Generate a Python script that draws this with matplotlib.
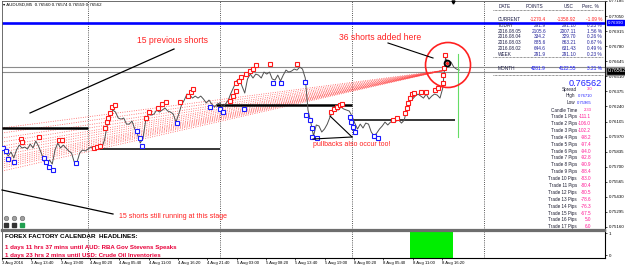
import numpy as np
import matplotlib
matplotlib.use('Agg')
import matplotlib.pyplot as plt
from matplotlib.lines import Line2D
from matplotlib.patches import Ellipse

plt.rcParams['font.family'] = ['Liberation Sans', 'DejaVu Sans']

W, H = 625, 267

# ---------------- data ----------------
symbol_header = "\u25be AUDUSD,M5  0.76560 0.76574 0.76559 0.76562"

# close prices (in 1e-5 units), every 30 min of trading time from 3 Aug 08:30
close_start_h = 8.5
close_step_h = 0.5
close_pts = [
    75868, 75832, 75796, 75832, 75778, 75850, 75894, 75868, 75876, 75859,
    75903, 75868, 75930, 75885, 75823, 75760, 75724, 75760, 75724, 75850,
    75912, 75868, 75894, 75868, 75841, 75823, 75742, 75742, 75823, 75850,
    75841, 75859, 75876, 75868, 75876, 75894, 75868, 75939, 76074, 76154,
    76208, 76190, 76136, 76127, 76136, 76082, 76082, 76109, 76038, 75993,
    75912, 75957, 76118, 76172, 76163, 76172, 76208, 76190, 76208, 76226,
    76199, 76190, 76172, 76100, 76172, 76253, 76297, 76351, 76342, 76315,
    76333, 76315, 76333, 76306, 76271, 76297, 76262, 76235, 76262, 76271,
    76235, 76262, 76297, 76360, 76414, 76468, 76486, 76423, 76360, 76486,
    76530, 76495, 76530, 76521, 76495, 76548, 76530, 76548, 76486, 76477,
    76521, 76468, 76521, 76566, 76548, 76557, 76575, 76566, 76593, 76575,
    76495, 76208, 76100, 75975, 76074, 76065, 76011, 76038, 76082, 76145,
    76190, 76217, 76208, 76235, 76217, 76208, 76199, 76154, 76091, 76038,
    76082, 76047, 76091, 76082, 76011, 75975, 76002, 76038, 76065, 76100,
    76074, 76100, 76118, 76109, 76118, 76091, 76118, 76226, 76315, 76306,
    76333, 76351, 76333, 76315, 76351, 76306, 76333, 76351, 76342, 76315,
    76405, 76674, 76620, 76638, 76593, 76575, 76566,
]

# sell markers (red) and buy/close markers (blue): trading hours, price (1e-5)
red_h = [11.82, 12.0, 15.09, 18.73, 19.27, 25.09, 25.64, 26.18, 27.09, 27.45,
         27.64, 28.0, 28.36, 28.91, 34.55, 35.09, 36.73, 37.45, 38.18, 40.73,
         42.18, 42.73, 43.09, 49.82, 50.36, 50.91, 50.91, 51.45, 51.82, 52.73,
         53.45, 54.0, 54.55, 57.09, 62.0, 68.18, 68.73, 69.27, 69.82, 70.18,
         79.45, 80.18, 81.64, 82.0, 82.18, 82.55, 82.91, 83.27, 84.55, 85.45,
         87.09, 87.64, 88.55, 88.55, 88.73, 88.91]
red_p = [75948, 75921, 75966, 75939, 75939, 75868, 75876, 75885, 76047, 76100,
         76136, 76181, 76235, 76253, 76136, 76190, 76226, 76262, 76280, 76280,
         76333, 76369, 76396, 76288, 76333, 76378, 76450, 76468, 76504, 76530,
         76557, 76575, 76611, 76620, 76620, 76190, 76217, 76235, 76253, 76262,
         76118, 76136, 76181, 76226, 76271, 76315, 76351, 76360, 76369, 76369,
         76387, 76405, 76450, 76521, 76584, 76700]
blue_h = [8.55, 9.09, 9.45, 10.55, 16.0, 16.36, 16.91, 17.64, 21.82, 32.91,
          33.45, 33.82, 40.18, 46.18, 48.0, 48.55, 52.36, 57.64, 59.09, 63.45,
          63.64, 64.36, 64.73, 64.73, 65.64, 71.64, 71.82, 72.18, 72.55, 76.0,
          76.73]
blue_p = [75868, 75841, 75769, 75742, 75778, 75742, 75697, 75670, 75733, 76020,
          75957, 75885, 76091, 76235, 76217, 76190, 76217, 76450, 76450, 76459,
          76163, 76118, 76047, 75966, 75957, 76145, 76100, 76056, 76011, 75975,
          75957]

# open-trade lines: price where each enters the chart, all running to the current price
fan_left_p = [76047, 76002, 75957, 75921, 75885, 75859, 75832, 75805, 75778,
              75760, 75742, 75724, 75706, 75688, 75661]
fan_end_h = 88.6
current_price = 0.76562
ask_price = 0.76590
bid_line = 0.76552
blue_level = 0.76990
day_high, day_low = 0.76710, 0.75965
day_hl_h = 91.27

# drawn horizontal levels: (start h, end h, price, width)
level_start = [8.36, 26.2, 47.3, 72.2]
level_end = [24.0, 48.0, 72.0, 90.7]
level_price = [0.76047, 0.75859, 0.76253, 0.76118]
level_lw = [1.8, 1.1, 1.8, 1.1]

day_separators = [24, 48, 72, 96]

tick_times = ["3 Aug 08:20", "3 Aug 13:40", "3 Aug 19:00", "4 Aug 00:20",
              "4 Aug 05:40", "4 Aug 11:00", "4 Aug 16:20", "4 Aug 21:40",
              "5 Aug 03:00", "5 Aug 08:20", "5 Aug 13:40", "5 Aug 19:00",
              "8 Aug 00:20", "8 Aug 05:40", "8 Aug 11:00", "8 Aug 16:20"]
tick_labels = ["3 Aug 2016"] + tick_times[1:]

price_ticks = [0.77185, 0.77050, 0.76915, 0.76780, 0.76645, 0.76510, 0.76375,
               0.76240, 0.76105, 0.75970, 0.75835, 0.75700, 0.75565, 0.75430,
               0.75295, 0.75160]

signal_start_h, signal_end_h = 82.55, 90.36

table_header = ["DATE", "POINTS", "USC", "Perc. %"]
table_dates = ["CURRENT", "TODAY", "2016.08.05", "2016.08.04", "2016.08.03",
               "2016.08.02", "WEEK", "MONTH"]
table_points = ["-1270.4", "291.9", "2105.6", "334.2", "885.6", "644.6", "291.9", "4281.9"]
table_usc = ["-1358.92", "291.10", "2007.11", "329.70", "863.21", "631.43", "291.10", "4122.55"]
table_perc = ["-1.09", "0.23", "1.56", "0.26", "0.67", "0.49", "0.23", "3.21"]
info_labels = ["Spread", "High", "Low", "Candle Time"]
info_values = ["3.0", "0.76710", "0.75965", "2:33"]
trade_pips = [-111.1, -106.0, -102.2, -98.2, -97.4, -94.0, -92.8, -90.9, -88.4,
              -83.0, -80.4, -80.5, -78.6, -76.3, -67.5, 5.0, 6.0]

calendar_lines = ["FOREX FACTORY CALENDAR  HEADLINES:",
                  "1 days 11 hrs 37 mins until AUD: RBA Gov Stevens Speaks",
                  "1 days 23 hrs 2 mins until USD: Crude Oil Inventories"]

# ---------------- helpers ----------------
DAY_INDEX = {"3": 0, "4": 1, "5": 2, "8": 3}


def trading_hours(s):
    d, _, hm = s.split()
    hh, mm = hm.split(":")
    return DAY_INDEX[d] * 24 + int(hh) + int(mm) / 60.0


def fx(x):
    return x / W


def fy(y):
    return 1 - y / H


fig = plt.figure(figsize=(W / 100, H / 100), dpi=100)
fig.patch.set_facecolor('white')


def ftxt(x, y, s, **kw):
    kw.setdefault('va', 'center')
    fig.text(fx(x), fy(y), s, **kw)


def fline(xs, ys, **kw):
    fig.add_artist(Line2D([fx(v) for v in xs], [fy(v) for v in ys],
                          transform=fig.transFigure, **kw))


# ---------------- main axes ----------------
x_left = (2 + 44) / 5.5
x_right = (605 + 44) / 5.5
ax = fig.add_axes([fx(2), fy(230), (605 - 2) / W, (230 - 1) / H])
ax.set_xlim(x_left, x_right)
ax.set_ylim(0.75133, 0.771844)
ax.set_facecolor('white')

t = close_start_h + close_step_h * np.arange(len(close_pts))
close = np.array(close_pts) / 1e5

# day separators
for d in day_separators:
    ax.axvline(d, color='#222222', lw=0.6, ls=(0, (1, 1.6)), zorder=1)

# horizontal price lines
ax.axhline(blue_level, color='#0000ff', lw=1.9, zorder=2)
ax.axhline(ask_price, color='#8c8c8c', lw=0.8, zorder=2)
ax.axhline(bid_line, color='#8c8c8c', lw=0.8, zorder=2)

# fan of open trade lines
for p in fan_left_p:
    ax.plot([x_left, fan_end_h], [p / 1e5, current_price], color='#ff3a3a',
            lw=0.6, ls=(0, (1, 1.8)), alpha=0.85, zorder=2)

# drawn levels
for a, b, p, w in zip(level_start, level_end, level_price, level_lw):
    ax.plot([a, b], [p, p], color='black', lw=w, solid_capstyle='butt', zorder=3)

# price line
ax.plot(t, close, color='#505050', lw=0.7, zorder=4)

# day high/low line
ax.plot([day_hl_h, day_hl_h], [day_low, day_high], color='#66dd66', lw=0.8, zorder=4)

# markers
ax.plot(red_h, np.array(red_p) / 1e5, ls='none', marker='s', ms=3.3, mfc='white',
        mec='#ff1a1a', mew=0.8, zorder=5)
ax.plot(blue_h, np.array(blue_p) / 1e5, ls='none', marker='s', ms=3.3, mfc='white',
        mec='#1a1aff', mew=0.8, zorder=5)
ax.plot([89.27], [0.76629], ls='none', marker='o', ms=4.2, mfc='none', mec='black',
        mew=1.3, zorder=6)
ax.plot([89.27], [0.76629], ls='none', marker='o', ms=1.3, color='#ff2020', zorder=7)

# axes styling
for s in ['left', 'top']:
    ax.spines[s].set_color('#555555')
    ax.spines[s].set_linewidth(0.6)
ax.spines['right'].set_color('black')
ax.spines['right'].set_linewidth(0.8)
ax.spines['bottom'].set_color('#6e6e6e')
ax.spines['bottom'].set_linewidth(1.6)
ax.set_xticks([])
ax.yaxis.tick_right()
ax.set_yticks(price_ticks)
ax.set_yticklabels([f"{v:.5f}" for v in price_ticks])
ax.tick_params(axis='y', labelsize=3.2, length=1.5, width=0.5, pad=1.2, colors='black')

# price boxes on axis
ax.annotate(f"{blue_level:.5f}", xy=(1.0, blue_level), xycoords=('axes fraction', 'data'),
            xytext=(2.0, 0), textcoords='offset points', fontsize=3.2, color='white',
            va='center', ha='left',
            bbox=dict(boxstyle='square,pad=0.15', fc='#0000ff', ec='#0000ff'),
            annotation_clip=False, zorder=10)
ax.annotate(f"{current_price:.5f}", xy=(1.0, current_price), xycoords=('axes fraction', 'data'),
            xytext=(2.0, 0), textcoords='offset points', fontsize=3.6, color='white',
            va='center', ha='left',
            bbox=dict(boxstyle='square,pad=0.3', fc='black', ec='#888888'),
            annotation_clip=False, zorder=10)

# ---------------- lower indicator axes ----------------
ax2 = fig.add_axes([fx(2), fy(258), (605 - 2) / W, (258 - 231) / H])
ax2.set_xlim(x_left, x_right)
ax2.set_ylim(-0.136, 1.091)
ax2.axvspan(signal_start_h, signal_end_h, color='#00ee00', lw=0, zorder=2)
for d in day_separators:
    ax2.axvline(d, color='#222222', lw=0.6, ls=(0, (1, 1.6)), zorder=1)
ax2.spines['top'].set_color('#6e6e6e')
ax2.spines['top'].set_linewidth(1.6)
ax2.spines['left'].set_color('#555555')
ax2.spines['left'].set_linewidth(0.6)
ax2.spines['right'].set_linewidth(0.8)
ax2.spines['bottom'].set_linewidth(0.8)
ax2.yaxis.tick_right()
ax2.set_yticks([0, 1])
ax2.set_yticklabels(["0", "1"])
ax2.tick_params(axis='y', labelsize=3.2, length=1.5, width=0.5, pad=1.2)
ax2.set_xticks([trading_hours(s) for s in tick_times])
ax2.set_xticklabels(tick_labels, ha='left')
ax2.tick_params(axis='x', labelsize=3.1, length=1.5, width=0.5, pad=1.0)

# ---------------- overlay texts ----------------
ftxt(3, 5, symbol_header, fontsize=3.2, color='black')
fline([453], [2], marker='v', ms=2.2, color='black', ls='none')

# table
hdr_x = [499, 526, 564, 582]
for s, x in zip(table_header, hdr_x):
    ftxt(x, 6, s, fontsize=3.4, color='#1e1e46', ha='left')
fline([493, 603], [10, 10], color='#333333', lw=0.5, ls=(0, (1, 1)))
fline([493, 603], [57.3, 57.3], color='#333333', lw=0.5, ls=(0, (1, 1)))
fline([493, 603], [75, 75], color='#333333', lw=0.5, ls=(0, (1, 1)))
row_y = [19.3, 25.6, 31.4, 37.0, 42.7, 48.3, 54.0, 68.3]
for i, (d, pts, usc, pc) in enumerate(zip(table_dates, table_points, table_usc, table_perc)):
    if i == 0:
        c = '#ff2020'
    elif d == "MONTH":
        c = '#1010ff'
    else:
        c = '#22229a'
    ftxt(498, row_y[i], d, fontsize=3.4, color='#1e1e46', ha='left')
    ftxt(546, row_y[i], pts, fontsize=3.4, color=c, ha='right')
    ftxt(576, row_y[i], usc, fontsize=3.4, color=c, ha='right')
    ftxt(602, row_y[i], pc + " %", fontsize=3.4, color=c, ha='right')

ftxt(602, 83, f"{current_price:.5f}", fontsize=6.6, color='#1e1eff', ha='right')
info_y = [89.3, 96.0, 102.8, 110.0]
info_col = ['#ff1493', '#1e1eff', '#1e1eff', '#ff1493']
info_lab_right = [577, 575, 575, 577]
for lab, val, y, c, xr in zip(info_labels, info_values, info_y, info_col, info_lab_right):
    ftxt(xr, y, lab, fontsize=3.3, color='#1e1e32', ha='right')
    ftxt(592, y, val, fontsize=3.0, color=c, ha='right')
for i, v in enumerate(trade_pips):
    y = 116.7 + 6.88 * i
    ftxt(577, y, f"Trade {i + 1} Pips", fontsize=3.3, color='#1e1e32', ha='right')
    ftxt(591, y, f"{v:.1f}", fontsize=3.3, color='#ff1493', ha='right')

# annotations
red = '#ff2020'
ftxt(137, 41, "15 previous shorts", fontsize=6.2, color=red, ha='left')
ftxt(339, 37, "36 shorts added here", fontsize=6.2, color=red, ha='left')
ftxt(313, 145, "pullbacks also occur too!", fontsize=5.0, color=red, ha='left')
ftxt(119, 216, "15 shorts still running at this stage", fontsize=5.0, color=red, ha='left')
fline([30, 174], [113, 49], color='black', lw=0.9)
fline([2, 113], [190, 214], color='black', lw=0.9)
fline([388, 433], [43, 58], color='black', lw=0.8)
fline([330, 352], [116, 137], color='black', lw=0.8)
fline([313, 352], [139, 137], color='black', lw=0.8)
fig.add_artist(Ellipse((fx(448), fy(65)), 45 / W, 45 / H, transform=fig.transFigure,
                       fill=False, ec=red, lw=1.2))

# small chart icons (bottom-left)
for x in [6, 14, 22]:
    fline([x], [218], marker='o', ms=3.2, mfc='#a0a0a0', mec='#707070', mew=0.5, ls='none')
for x, c in zip([6, 14, 22], ['#333333', '#333333', '#22a050']):
    fline([x], [224.5], marker='s', ms=3.0, mfc=c, mec=c, ls='none')

# calendar headlines
ftxt(5, 237, calendar_lines[0], fontsize=4.6, color='black', fontweight='bold', ha='left')
ftxt(5, 247, calendar_lines[1], fontsize=4.4, color='#e8003a', fontweight='bold', ha='left')
ftxt(5, 255, calendar_lines[2], fontsize=4.4, color='#e8003a', fontweight='bold', ha='left')

fig.savefig("out.png", dpi=100, facecolor='white')
